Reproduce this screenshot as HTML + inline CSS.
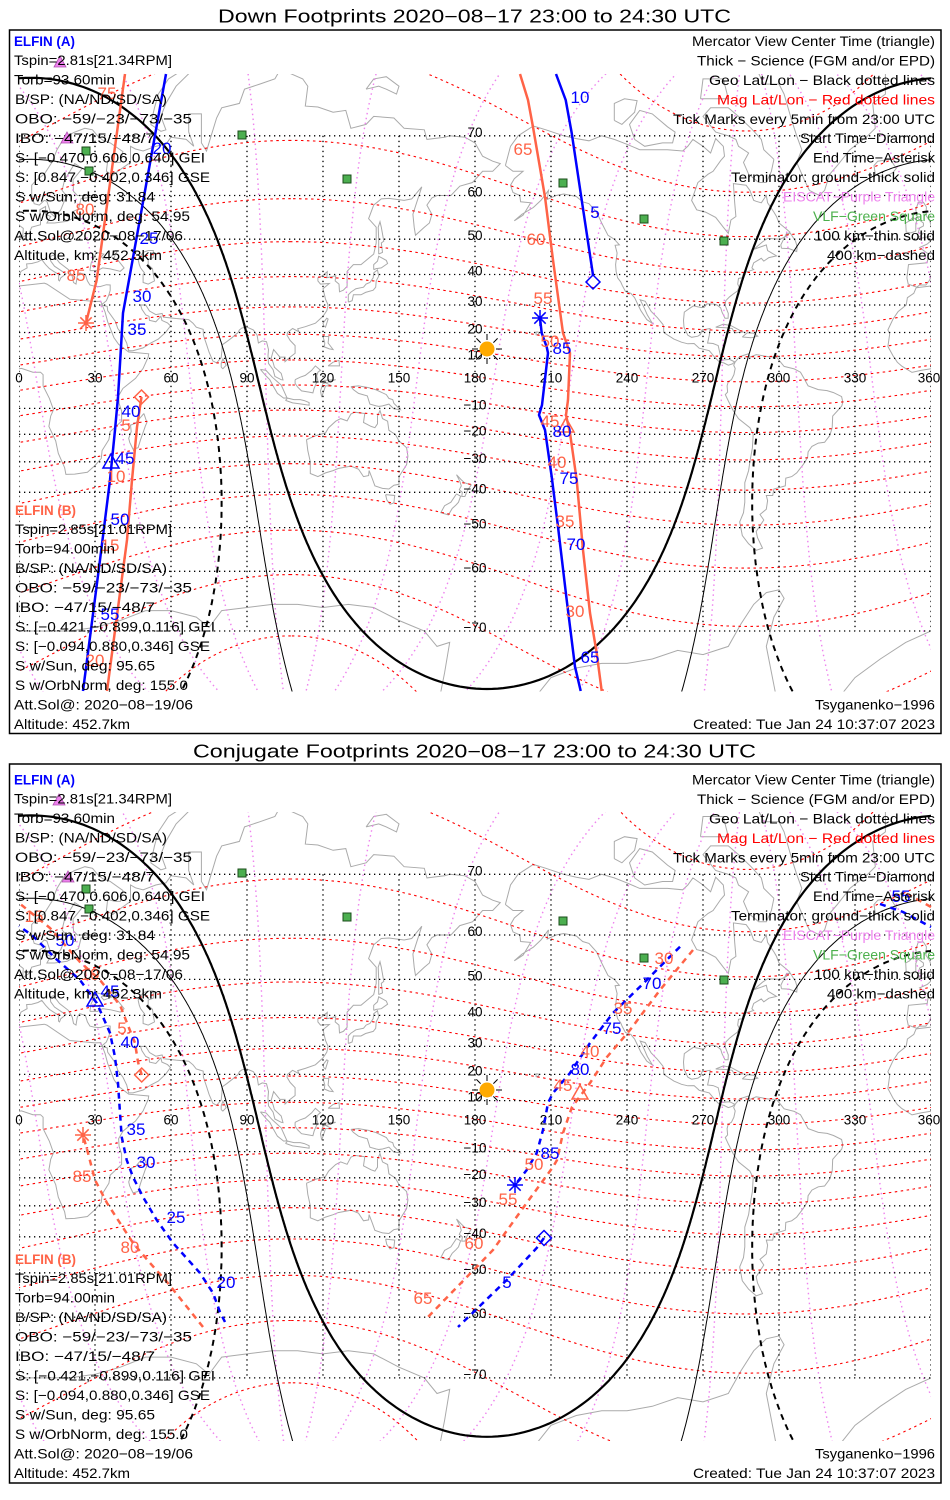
<!DOCTYPE html>
<html><head><meta charset="utf-8"><style>
html,body{margin:0;padding:0;background:#fff;width:950px;height:1500px;overflow:hidden;}
svg{display:block;font-family:"Liberation Sans",sans-serif;}
.t{font-size:14px;fill:#000;}
.g{font-size:13.5px;fill:#000;}
.lb{font-size:17px;}
.b{fill:#0000ff;}
.r{fill:#ff6347;}
</style></head><body>
<svg id="s" xmlns="http://www.w3.org/2000/svg" width="950" height="1500" viewBox="0 0 950 1500">
<rect width="950" height="1500" fill="#fff"/>
<defs>
<clipPath id="c1"><rect x="19" y="74" width="912" height="617.5"/></clipPath>
<clipPath id="c2"><rect x="19" y="812" width="912" height="629"/></clipPath>
</defs>
<g id="m1" clip-path="url(#c1)"></g>
<g id="m2" clip-path="url(#c2)"></g>

<!-- grid labels panel 1 -->
<g class="g" text-anchor="middle">
<text x="19" y="382.7">0</text><text x="95" y="382.7">30</text><text x="171" y="382.7">60</text><text x="247" y="382.7">90</text><text x="323" y="382.7">120</text><text x="399" y="382.7">150</text><text x="475" y="382.7">180</text><text x="551" y="382.7">210</text><text x="627" y="382.7">240</text><text x="703" y="382.7">270</text><text x="779" y="382.7">300</text><text x="855" y="382.7">330</text><text x="929" y="382.7">360</text>
<text x="475" y="136.8">70</text><text x="475" y="196.5">60</text><text x="475" y="240.2">50</text><text x="475" y="275.5">40</text><text x="475" y="306">30</text><text x="475" y="333.5">20</text><text x="475" y="359.4">10</text>
<text x="475" y="409.4">−10</text><text x="475" y="435.3">−20</text><text x="475" y="462.8">−30</text><text x="475" y="493.3">−40</text><text x="475" y="528.6">−50</text><text x="475" y="572.3">−60</text><text x="475" y="632">−70</text>
</g>
<!-- grid labels panel 2 -->
<g class="g" text-anchor="middle">
<text x="19" y="1124.7">0</text><text x="95" y="1124.7">30</text><text x="171" y="1124.7">60</text><text x="247" y="1124.7">90</text><text x="323" y="1124.7">120</text><text x="399" y="1124.7">150</text><text x="475" y="1124.7">180</text><text x="551" y="1124.7">210</text><text x="627" y="1124.7">240</text><text x="703" y="1124.7">270</text><text x="779" y="1124.7">300</text><text x="855" y="1124.7">330</text><text x="929" y="1124.7">360</text>
<text x="475" y="875.3">70</text><text x="475" y="936">60</text><text x="475" y="980.4">50</text><text x="475" y="1016.4">40</text><text x="475" y="1047.4">30</text><text x="475" y="1075.4">20</text><text x="475" y="1101.6">10</text>
<text x="475" y="1152.6">−10</text><text x="475" y="1178.8">−20</text><text x="475" y="1206.8">−30</text><text x="475" y="1237.8">−40</text><text x="475" y="1273.8">−50</text><text x="475" y="1318.2">−60</text><text x="475" y="1378.9">−70</text>
</g>

<!-- sun -->
<g stroke="#000" stroke-width="1">
<path d="M496,349h6M472,349h6M487,340v-6M487,358v6M493.4,342.6l4.2,-4.2M480.6,355.4l-4.2,4.2M480.6,342.6l-4.2,-4.2M493.4,355.4l4.2,4.2"/>
<path d="M496,1090h6M472,1090h6M487,1081v-6M487,1099v6M493.4,1083.6l4.2,-4.2M480.6,1096.4l-4.2,4.2M480.6,1083.6l-4.2,-4.2M493.4,1096.4l4.2,4.2"/>
</g>
<circle cx="487" cy="349" r="7.5" fill="#ffaa00"/>
<circle cx="487" cy="1090" r="7.5" fill="#ffaa00"/>

<!-- green squares -->
<g fill="#4caf50" stroke="#1b4d1b" stroke-width="1">
<rect x="238" y="131" width="8" height="8"/><rect x="82" y="147" width="8" height="8"/><rect x="85" y="167" width="8" height="8"/><rect x="343" y="175" width="8" height="8"/><rect x="559" y="179" width="8" height="8"/><rect x="640" y="215" width="8" height="8"/><rect x="720" y="237" width="8" height="8"/>
<rect x="238" y="869" width="8" height="8"/><rect x="82" y="885" width="8" height="8"/><rect x="85" y="905" width="8" height="8"/><rect x="343" y="913" width="8" height="8"/><rect x="559" y="917" width="8" height="8"/><rect x="640" y="954" width="8" height="8"/><rect x="720" y="976" width="8" height="8"/>
</g>
<!-- EISCAT triangles -->
<g fill="#ee82ee" stroke="#b050b0" stroke-width="0.8">
<polygon points="54,67 66,67 60,56"/><polygon points="61,143 73,143 67,132"/>
<polygon points="53,805 65,805 59,794"/><polygon points="62,882 74,882 68,871"/>
</g>

<!-- tracks panel 1 (science, solid) -->
<g fill="none" stroke-width="2.5" stroke-linejoin="round">
<g stroke="#0000ff">
<polyline points="593,276 592.7,273 581.7,200 571.7,133 565.7,100 556,74"/>
<polyline points="166,74 129,280 123,313 121,347 118,397 115,430 110,480 100,560 83,691"/>
<polyline points="580.7,691 575,666.7 566.7,600 558,526.7 551.7,476.7 545,430 539,415 542,405 548,353 546.7,347 541.7,333 540,318"/>
</g>
<g stroke="#ff6347">
<polyline points="125,74 96.7,280 86,323"/>
<polyline points="141.5,397 137,427 132,480 127,540 107,691"/>
<polyline points="601.7,691 596.7,653 590,613 583,550 576.7,480 570,433 566,415 568,400 570,353 563,333 553,260 545,197 533,127 528,100 520,74"/>
</g>
</g>
<!-- tracks panel 2 (dashed) -->
<g fill="none" stroke-width="2.5" stroke-dasharray="6 5">
<g stroke="#0000ff">
<polyline points="544,1238 536.7,1248 506.7,1280 458,1327"/>
<polyline points="225,1322 220,1312 213,1293 200,1273 173,1243 156.7,1220 143,1197 133,1177 126.7,1160 121.7,1137 120,1113 118,1083 115,1057 110,1033 103,1017 96.7,1003 80,980 55,958 33,936 19,926"/>
<polyline points="880,904 903,912 931,927"/>
<polyline points="680,946.7 640,986.7 613,1013 590,1043 570,1073 553,1093 548,1103 543,1130 536.7,1153 526.7,1170 515,1185"/>
</g>
<g stroke="#ff6347">
<polyline points="693,950 660,990 630,1030 607,1057 590,1083 572,1107 563,1133 557,1160 553,1167 523,1208 493,1250 427,1318"/>
<polyline points="141.7,1075 138,1062 135,1043 127,1023 120,1005 100,980 80,962 50,928 19,903"/>
<polyline points="931,907 913,897 905,893"/>
<polyline points="203,1327 187,1307 167,1282 150,1263 133,1243 120,1223 107,1203 95,1180 88,1153 83,1135"/>
</g>
</g>

<!-- markers -->
<g fill="none" stroke-width="1.5">
<g stroke="#0000ff">
<polygon points="593,275 600,282 593,289 586,282"/>
<path d="M532,318h16M540,310v16M534.3,312.3l11.4,11.4M534.3,323.7l11.4,-11.4"/>
<polygon points="103,468 119,468 111,454"/>
<polygon points="544,1230.5 551.5,1238 544,1245.5 536.5,1238"/>
<path d="M507,1185h16M515,1177v16M509.3,1179.3l11.4,11.4M509.3,1190.7l11.4,-11.4"/>
<polygon points="87,1006 103,1006 95,992"/>
</g>
<g stroke="#ff6347">
<polygon points="141.5,390 148.5,397 141.5,404 134.5,397"/>
<path d="M78,323h16M86,315v16M80.3,317.3l11.4,11.4M80.3,328.7l11.4,-11.4"/>
<polygon points="558,432 574,432 566,418"/>
<polygon points="141.7,1068 148.7,1075 141.7,1082 134.7,1075"/>
<path d="M75,1135h16M83,1127v16M77.3,1129.3l11.4,11.4M77.3,1140.7l11.4,-11.4"/>
<polygon points="572,1099 588,1099 580,1085"/>
</g>
</g>

<!-- track labels -->
<g class="lb b" text-anchor="middle">
<text x="580" y="103">10</text><text x="595" y="218">5</text><text x="162" y="154">20</text><text x="149" y="244">25</text><text x="142" y="302">30</text><text x="137" y="335">35</text><text x="131" y="417">40</text><text x="125" y="464">45</text><text x="120" y="525">50</text><text x="110" y="620">55</text><text x="590" y="663">65</text><text x="576" y="550">70</text><text x="569" y="484">75</text><text x="562" y="437">80</text><text x="562" y="354">85</text>
<text x="507" y="1288">5</text><text x="226" y="1288">20</text><text x="176" y="1223">25</text><text x="146" y="1168">30</text><text x="136" y="1135">35</text><text x="130" y="1048">40</text><text x="110" y="997">45</text><text x="65" y="946">50</text><text x="901" y="902">55</text><text x="652" y="989">70</text><text x="612" y="1034">75</text><text x="580" y="1075">80</text><text x="550" y="1159">85</text>
</g>
<g class="lb r" text-anchor="middle">
<text x="107" y="99">75</text><text x="85" y="215">80</text><text x="76" y="281">85</text><text x="126" y="431">5</text><text x="116" y="482">10</text><text x="110" y="551">15</text><text x="95" y="666">20</text><text x="575" y="617">30</text><text x="565" y="527">35</text><text x="557" y="468">40</text><text x="550" y="427">45</text><text x="550" y="347">50</text><text x="543" y="304">55</text><text x="536" y="245">60</text><text x="523" y="155">65</text>
<text x="122" y="1034">5</text><text x="90" y="980">10</text><text x="34" y="922">15</text><text x="664" y="964">30</text><text x="623" y="1014">35</text><text x="590" y="1057">40</text><text x="563" y="1091">45</text><text x="534" y="1170">50</text><text x="508" y="1205">55</text><text x="474" y="1249">60</text><text x="423" y="1304">65</text><text x="130" y="1253">80</text><text x="82" y="1182">85</text>
</g>

<!-- titles -->
<text x="218" y="22.5" font-size="18" textLength="513" lengthAdjust="spacingAndGlyphs">Down Footprints 2020−08−17 23:00 to 24:30 UTC</text>
<text x="193" y="757.5" font-size="18" textLength="563" lengthAdjust="spacingAndGlyphs">Conjugate Footprints 2020−08−17 23:00 to 24:30 UTC</text>

<!-- panel 1 A block -->
<g class="t">
<text x="14" y="46" textLength="61" lengthAdjust="spacingAndGlyphs" font-weight="bold" fill="#0000ff">ELFIN (A)</text>
<text x="14" y="65" textLength="158" lengthAdjust="spacingAndGlyphs">Tspin=2.81s[21.34RPM]</text>
<text x="14" y="84.5" textLength="101" lengthAdjust="spacingAndGlyphs">Torb=93.60min</text>
<text x="15" y="104" textLength="152" lengthAdjust="spacingAndGlyphs">B/SP: (NA/ND/SD/SA)</text>
<text x="15" y="123.5" textLength="177" lengthAdjust="spacingAndGlyphs">OBO: −59/−23/−73/−35</text>
<text x="15" y="143" textLength="140" lengthAdjust="spacingAndGlyphs">IBO: −47/15/−48/7</text>
<text x="15" y="162.5" textLength="190" lengthAdjust="spacingAndGlyphs">S: [−0.470,0.606,0.640] GEI</text>
<text x="15" y="182" textLength="195" lengthAdjust="spacingAndGlyphs">S: [0.847,−0.402,0.346] GSE</text>
<text x="15" y="201.5" textLength="140" lengthAdjust="spacingAndGlyphs">S w/Sun, deg: 31.84</text>
<text x="15" y="221" textLength="175" lengthAdjust="spacingAndGlyphs">S w/OrbNorm, deg: 54.95</text>
<text x="14" y="240.5" textLength="169" lengthAdjust="spacingAndGlyphs">Att.Sol@2020−08−17/06</text>
<text x="14" y="260" textLength="148" lengthAdjust="spacingAndGlyphs">Altitude, km: 452.3km</text>
</g>
<!-- panel 1 B block -->
<g class="t">
<text x="15" y="515" textLength="61" lengthAdjust="spacingAndGlyphs" font-weight="bold" fill="#ff6347">ELFIN (B)</text>
<text x="15" y="534" textLength="157" lengthAdjust="spacingAndGlyphs">Tspin=2.85s[21.01RPM]</text>
<text x="15" y="553.5" textLength="100" lengthAdjust="spacingAndGlyphs">Torb=94.00min</text>
<text x="15" y="573" textLength="152" lengthAdjust="spacingAndGlyphs">B/SP: (NA/ND/SD/SA)</text>
<text x="15" y="592.5" textLength="177" lengthAdjust="spacingAndGlyphs">OBO: −59/−23/−73/−35</text>
<text x="15" y="612" textLength="140" lengthAdjust="spacingAndGlyphs">IBO: −47/15/−48/7</text>
<text x="15" y="631.5" textLength="200" lengthAdjust="spacingAndGlyphs">S: [−0.421,−0.899,0.116] GEI</text>
<text x="15" y="651" textLength="195" lengthAdjust="spacingAndGlyphs">S: [−0.094,0.880,0.346] GSE</text>
<text x="15" y="670.5" textLength="140" lengthAdjust="spacingAndGlyphs">S w/Sun, deg: 95.65</text>
<text x="15" y="690" textLength="173" lengthAdjust="spacingAndGlyphs">S w/OrbNorm, deg: 155.0</text>
<text x="14" y="709.5" textLength="179" lengthAdjust="spacingAndGlyphs">Att.Sol@: 2020−08−19/06</text>
<text x="14" y="729" textLength="116" lengthAdjust="spacingAndGlyphs">Altitude: 452.7km</text>
</g>
<!-- panel 1 legend -->
<g class="t">
<text x="692" y="46" textLength="243" lengthAdjust="spacingAndGlyphs">Mercator View Center Time (triangle)</text>
<text x="697" y="65.5" textLength="238" lengthAdjust="spacingAndGlyphs">Thick − Science (FGM and/or EPD)</text>
<text x="709" y="85" textLength="226" lengthAdjust="spacingAndGlyphs">Geo Lat/Lon − Black dotted lines</text>
<text x="717" y="104.5" textLength="218" lengthAdjust="spacingAndGlyphs" fill="#ff0000">Mag Lat/Lon − Red dotted lines</text>
<text x="673" y="124" textLength="262" lengthAdjust="spacingAndGlyphs">Tick Marks every 5min from 23:00 UTC</text>
<text x="800" y="143" textLength="135" lengthAdjust="spacingAndGlyphs">Start Time−Diamond</text>
<text x="813" y="162.5" textLength="122" lengthAdjust="spacingAndGlyphs">End Time−Asterisk</text>
<text x="731" y="182" textLength="204" lengthAdjust="spacingAndGlyphs">Terminator: ground−thick solid</text>
<text x="783" y="201.5" textLength="152" lengthAdjust="spacingAndGlyphs" fill="#ee82ee">EISCAT−Purple Triangle</text>
<text x="813" y="221" textLength="122" lengthAdjust="spacingAndGlyphs" fill="#4cb04c">VLF−Green Square</text>
<text x="814" y="240.5" textLength="121" lengthAdjust="spacingAndGlyphs">100 km−thin solid</text>
<text x="827" y="260" textLength="108" lengthAdjust="spacingAndGlyphs">400 km−dashed</text>
<text x="815" y="709.5" textLength="120" lengthAdjust="spacingAndGlyphs">Tsyganenko−1996</text>
<text x="693" y="729" textLength="242" lengthAdjust="spacingAndGlyphs">Created: Tue Jan 24 10:37:07 2023</text>
</g>

<!-- panel 2 A block -->
<g class="t">
<text x="14" y="784.5" textLength="61" lengthAdjust="spacingAndGlyphs" font-weight="bold" fill="#0000ff">ELFIN (A)</text>
<text x="14" y="803.5" textLength="158" lengthAdjust="spacingAndGlyphs">Tspin=2.81s[21.34RPM]</text>
<text x="14" y="823" textLength="101" lengthAdjust="spacingAndGlyphs">Torb=93.60min</text>
<text x="15" y="842.5" textLength="152" lengthAdjust="spacingAndGlyphs">B/SP: (NA/ND/SD/SA)</text>
<text x="15" y="862" textLength="177" lengthAdjust="spacingAndGlyphs">OBO: −59/−23/−73/−35</text>
<text x="15" y="881.5" textLength="140" lengthAdjust="spacingAndGlyphs">IBO: −47/15/−48/7</text>
<text x="15" y="901" textLength="190" lengthAdjust="spacingAndGlyphs">S: [−0.470,0.606,0.640] GEI</text>
<text x="15" y="920.5" textLength="195" lengthAdjust="spacingAndGlyphs">S: [0.847,−0.402,0.346] GSE</text>
<text x="15" y="940" textLength="140" lengthAdjust="spacingAndGlyphs">S w/Sun, deg: 31.84</text>
<text x="15" y="959.5" textLength="175" lengthAdjust="spacingAndGlyphs">S w/OrbNorm, deg: 54.95</text>
<text x="14" y="979" textLength="169" lengthAdjust="spacingAndGlyphs">Att.Sol@2020−08−17/06</text>
<text x="14" y="998.5" textLength="148" lengthAdjust="spacingAndGlyphs">Altitude, km: 452.3km</text>
</g>
<!-- panel 2 B block -->
<g class="t">
<text x="15" y="1264" textLength="61" lengthAdjust="spacingAndGlyphs" font-weight="bold" fill="#ff6347">ELFIN (B)</text>
<text x="15" y="1283" textLength="157" lengthAdjust="spacingAndGlyphs">Tspin=2.85s[21.01RPM]</text>
<text x="15" y="1302.5" textLength="100" lengthAdjust="spacingAndGlyphs">Torb=94.00min</text>
<text x="15" y="1322" textLength="152" lengthAdjust="spacingAndGlyphs">B/SP: (NA/ND/SD/SA)</text>
<text x="15" y="1341.5" textLength="177" lengthAdjust="spacingAndGlyphs">OBO: −59/−23/−73/−35</text>
<text x="15" y="1361" textLength="140" lengthAdjust="spacingAndGlyphs">IBO: −47/15/−48/7</text>
<text x="15" y="1380.5" textLength="200" lengthAdjust="spacingAndGlyphs">S: [−0.421,−0.899,0.116] GEI</text>
<text x="15" y="1400" textLength="195" lengthAdjust="spacingAndGlyphs">S: [−0.094,0.880,0.346] GSE</text>
<text x="15" y="1419.5" textLength="140" lengthAdjust="spacingAndGlyphs">S w/Sun, deg: 95.65</text>
<text x="15" y="1439" textLength="173" lengthAdjust="spacingAndGlyphs">S w/OrbNorm, deg: 155.0</text>
<text x="14" y="1458.5" textLength="179" lengthAdjust="spacingAndGlyphs">Att.Sol@: 2020−08−19/06</text>
<text x="14" y="1478" textLength="116" lengthAdjust="spacingAndGlyphs">Altitude: 452.7km</text>
</g>
<!-- panel 2 legend -->
<g class="t">
<text x="692" y="784.5" textLength="243" lengthAdjust="spacingAndGlyphs">Mercator View Center Time (triangle)</text>
<text x="697" y="804" textLength="238" lengthAdjust="spacingAndGlyphs">Thick − Science (FGM and/or EPD)</text>
<text x="709" y="823.5" textLength="226" lengthAdjust="spacingAndGlyphs">Geo Lat/Lon − Black dotted lines</text>
<text x="717" y="843" textLength="218" lengthAdjust="spacingAndGlyphs" fill="#ff0000">Mag Lat/Lon − Red dotted lines</text>
<text x="673" y="862.5" textLength="262" lengthAdjust="spacingAndGlyphs">Tick Marks every 5min from 23:00 UTC</text>
<text x="800" y="881.5" textLength="135" lengthAdjust="spacingAndGlyphs">Start Time−Diamond</text>
<text x="813" y="901" textLength="122" lengthAdjust="spacingAndGlyphs">End Time−Asterisk</text>
<text x="731" y="920.5" textLength="204" lengthAdjust="spacingAndGlyphs">Terminator: ground−thick solid</text>
<text x="783" y="940" textLength="152" lengthAdjust="spacingAndGlyphs" fill="#ee82ee">EISCAT−Purple Triangle</text>
<text x="813" y="959.5" textLength="122" lengthAdjust="spacingAndGlyphs" fill="#4cb04c">VLF−Green Square</text>
<text x="814" y="979" textLength="121" lengthAdjust="spacingAndGlyphs">100 km−thin solid</text>
<text x="827" y="998.5" textLength="108" lengthAdjust="spacingAndGlyphs">400 km−dashed</text>
<text x="815" y="1458.5" textLength="120" lengthAdjust="spacingAndGlyphs">Tsyganenko−1996</text>
<text x="693" y="1478" textLength="242" lengthAdjust="spacingAndGlyphs">Created: Tue Jan 24 10:37:07 2023</text>
</g>

<!-- frames -->
<rect x="9.5" y="30" width="931.5" height="703.5" fill="none" stroke="#000" stroke-width="1.5"/>
<rect x="9.5" y="764" width="931.5" height="719" fill="none" stroke="#000" stroke-width="1.5"/>
</svg>
<script>
(function(){
var NS='http://www.w3.org/2000/svg',D=Math.PI/180;
function mY(a){a=Math.max(-80,Math.min(80,a));return Math.log(Math.tan(Math.PI/4+a*D/2));}
var PAN=[{y0:383.4,s:142.7,g:document.getElementById('m1')},{y0:1126.1,s:145.1,g:document.getElementById('m2')}];
function X(l){return 19+l*76/30;}
function unwrap(p){var o=[],pv=null;for(var i=0;i<p.length;i++){var l=p[i][0];if(pv!==null){while(l-pv>180)l-=360;while(l-pv<-180)l+=360;}o.push([l,p[i][1]]);pv=l;}return o;}
function dstr(p,P,offs){
  var u=unwrap(p),d='';
  offs.forEach(function(off){
    var pen=false,px=null,py=null,pin=false;
    for(var i=0;i<u.length;i++){
      var x=X(u[i][0]+off),y=P.y0-P.s*mY(u[i][1]);
      var inside=(x>=-30&&x<=980);
      if(inside){
        if(!pen){
          if(px!==null&&Math.abs(px-x)<60){d+='M'+Math.max(-30,Math.min(980,px)).toFixed(1)+' '+py.toFixed(1)+'L';}
          else d+='M';
          pen=true;
        } else d+='L';
        d+=x.toFixed(1)+' '+y.toFixed(1);
      } else {
        if(pen&&Math.abs(px-x)<60){d+='L'+Math.max(-30,Math.min(980,x)).toFixed(1)+' '+y.toFixed(1);}
        pen=false;
      }
      px=x;py=y;
    }
  });
  return d;
}
function add(g,d,a){if(!d)return;var e=document.createElementNS(NS,'path');e.setAttribute('d',d);e.setAttribute('fill','none');for(var k in a)e.setAttribute(k,a[k]);g.appendChild(e);}
function circ(fc,lc,r,step){var p=[],f1=fc*D,rr=r*D;for(var b=0;b<=360.0001;b+=step){var bb=b*D;var s=Math.sin(f1)*Math.cos(rr)+Math.cos(f1)*Math.sin(rr)*Math.cos(bb);s=Math.max(-1,Math.min(1,s));var f=Math.asin(s);var dl=Math.atan2(Math.sin(bb)*Math.sin(rr)*Math.cos(f1),Math.cos(rr)-Math.sin(f1)*s);p.push([lc+dl/D,f/D]);}return p;}
function gcm(fc,lc,b,step){var p=[],f1=fc*D,bb=b*D;for(var dd=0.5;dd<=179.5;dd+=step){var rr=dd*D;var s=Math.sin(f1)*Math.cos(rr)+Math.cos(f1)*Math.sin(rr)*Math.cos(bb);s=Math.max(-1,Math.min(1,s));var f=Math.asin(s);var dl=Math.atan2(Math.sin(bb)*Math.sin(rr)*Math.cos(f1),Math.cos(rr)-Math.sin(f1)*s);p.push([lc+dl/D,f/D]);}return p;}
function pairs(a){var o=[];for(var i=0;i<a.length;i+=2)o.push([a[i],a[i+1]]);return o;}
var C=[
[-5.9,35.8,10,37.3,11,37,20,32,30,31.2,32.3,31.3,34,27.5,35,24,37.5,18,39.3,15.5,43.3,12.5,51.2,11.8,51,10.5,49,6,46,2,41,-2,39.3,-5,39.5,-8,40.5,-11,40.5,-15,36,-19,35.5,-22,32.8,-26,32.5,-28.8,30,-31.3,27,-33.6,22,-34.2,18.5,-34.3,18,-32,15.5,-27,14.5,-22.5,11.8,-17,12.5,-13,13.6,-10.5,12,-6,9.5,-1,9.5,3.5,8.5,4.5,5.5,4.5,1,6,-4,5.2,-7.5,4.4,-11.5,6.9,-13.3,8.5,-15,11,-17,14.7,-16.3,19.5,-17,21,-15,25,-13,27.7,-9.8,30,-9.3,32.5,-6.8,34,-5.9,35.8],
[49.3,-12,50.5,-15.5,49.8,-17,48,-22,47,-25,45,-25.5,43.7,-23,43.3,-21.5,44.3,-19,44,-16.5,46,-15.8,48,-13.5,49.3,-12],
[-5.6,36,-9,37,-9.5,39,-8.9,43,-1.5,43.5,-1,46,-4.5,47.8,-1.5,48.7,1.5,50.5,4,51.5,5,53,8.5,53.6,8.5,55.5,8.2,57,10.5,57.7,10.5,56,12.5,55.5,11,54,14,54,19,54.4,21,55,21,56.5,23.5,57.2,24.5,59.4,28,59.6,30,60,23,60,21.5,60.8,21.3,63,25,65,22,65.8,18,63,17,61,19,59.8,18,59,16.5,57,14,55.5,12.6,56.2,11,58.8,10,59,8,58,6,58.3,5,60,5,62,7,63,10,64,13,66,15,68,18,69.8,22,70.5,26,71,29,70.8,31,70,33,69.4,36,69,41,67.7,40,66,38,66,35,66.3,34.5,64.5,37,63.8,39,64.5,44,66,44,68.5,46,68.1,49,67.8,54,68.5,58,68.8,60,69.8,66,69.5,69,68.5,67,70.5,67,72.8,72,72.8,72,69,74,67.8,78,72.3,80,73.5,87,74,89,75.5,95,76,101,76.5,104,77.7,107,77,112,76.5,114,75.8,113,73.7,118,73.6,124,73,129,73.2,131,71,137,71.5,140,72.5,148,72.3,152,71,160,70.8,161,69.5,168,69.8,170,70,176,69.8,180,69,183,67,187,66.2,190,65.8,187,64.5,183,64.5,179,62.5,174,61.8,170.5,60,165,60,163,59.5,161,58,163,56,162,54,160,53,156.5,51,156,53,155.5,56,156.5,57.8,159,61.7,155,59.3,152,59,146,59.4,143,59.3,140,58,138,55,141,53,141,49,140,46,135,43,132,43,129.5,41,129.5,39,129.5,36.3,128,35,126.5,34.5,126.3,37,124.8,38,125,39.6,121.5,39,121.7,40.9,119.5,39.5,118,39,118,38,119,37,122.5,37.2,120,35.5,121,32,122,30,121.5,28,120,26,117,23.5,113,22.2,110,21.4,110.5,20.3,108,21.5,106,20,105.8,19,107,17,109,15,109,12,107,10.5,105,8.7,105,10.5,103,10.5,100.5,13.5,99.5,10,100.3,8.4,100.8,6.5,103.5,4,104.2,1.4,103.5,1.5,101,2.8,100.3,5.5,98.5,8,98.3,11,98.5,13.5,97.7,16.5,96,16.8,94.5,16,94,19,92.5,21,90,22,88,21.7,87,21,86.5,20,84,18,82,16.5,80.2,15.3,80.1,13,79.8,10.3,78,8.2,76.5,9,75,12.5,74,15.5,72.8,19,72.7,21.2,70,22,68.7,23.5,67,24.8,62,25.2,57,25.7,56.5,27,54,26.6,51.5,27.9,50,30,48,30,48.5,28.5,50,26.5,51.3,26,51.5,24.5,54,24,56,26,56.4,24.5,58.6,23.6,59.8,22.5,57.8,20,55,17.5,52,16,49,14.1,45,13,43.3,13,42.5,16,41,19,39,21.5,38,24.2,35,28,34.8,29.5,32.5,30,34.5,31.5,35.5,33.5,36,35,36,36.7,34.5,36.8,32,36.2,30,36.3,28,36.7,27,38,26.2,40,24,40.5,23,39.5,22.5,37,21.5,37.5,21,39.5,19.5,41.5,16,43.5,13.6,45.7,12.3,45.3,12.5,44,14,42.5,16,41.5,18.5,40.2,16.5,39,16,38,15.6,38.3,15.7,40,14,40.8,12,41.8,10.5,43,9,44.4,7.5,43.8,5,43.3,3,43.2,3.2,42,0.8,41,0,39.5,-0.5,38.3,-2,36.7,-4.5,36.7,-5.6,36],
[28,41.2,28.5,43.5,29.6,45,30.5,46.5,33.5,46,32.5,45.3,33.5,44.5,35.5,45,36.5,45.3,38,47,39,47,38,46,37.5,44.7,39,44.3,41.5,42,40,41,36,41.7,33,42,31,41.2,28,41.2],
[47,44.5,49,46.5,51,47,53,47,53,45,51,44.5,51,43,52.7,41.8,53,40,53.5,38,51,37,49,37.5,49,40,49.5,40.5,48,42,47.5,43,47,44.5],
[-5.7,50,1.5,51,1.7,52.7,0,53.5,-0.5,54.5,-2,55.8,-1.8,57.6,-3,58.6,-5,58.6,-6,57,-5.5,55.5,-4.8,54.8,-3,54,-3,53.3,-4.5,52.8,-5,51.6,-3,51.5,-5.7,50],
[-6,52,-6,53.9,-5.5,54.6,-7.2,55.3,-8.5,54.5,-10,54,-9.8,51.8,-8,51.6,-6,52],
[-22,64,-22.5,65.5,-21,66.2,-16,66.5,-14.5,65.5,-13.7,65,-15,64.3,-18.7,63.4,-22,64],
[52,71.5,56,70.6,58,70.8,56,72.5,58,74,62,75.8,68,77.2,66,77.5,59,76.5,55,75,53.5,73.5,52,71.5],
[137,75.5,142,75.8,145,75.5,149,75,150,75.8,145,76.7,140,76.5,137,75.5],
[130,31,131.5,31.5,132,33.5,135,33.5,136.8,34.3,139.8,35,140.8,36,141,38,142,39.5,141.5,41.4,140,40.5,139.8,39,138.5,37.5,137,37,136,36,133,35.5,131,34.4,130,33.5,130,31],
[140,41.5,141,41.8,143,42,145.5,43.3,145,44.2,142,45.4,141.5,44,140,43,140,41.5],
[142,46,143.5,46.5,143,49,144,49.5,143,53,142.5,54.3,141.8,53,142,50,142,46],
[120.3,22.5,121,22,122,25,121.5,25.3,120,23.5,120.3,22.5],
[120,18.5,122.3,18.5,122,16,124,13.5,122.5,13.7,120.5,14.5,120.7,16,120,18.5],
[122,7,126.5,7,126.3,9.2,124,8.5,122,7],
[109,1.5,111,2.5,113,3.2,115.5,5.2,117,7,119,5.3,118,4.5,117.5,3,118,1,117.3,0,116.5,-2,116,-3.8,114.5,-3.5,111.5,-3,110,-1.5,109,0,109,1.5],
[95.3,5.6,97.5,5.2,100,2.5,103.5,-0.7,105.8,-5.8,104.5,-5.9,102,-4,100.3,-1,99,1.5,97.5,3,95.3,5.6],
[105.2,-6.8,106,-5.9,108.5,-6.5,111,-6.5,112.6,-6.9,114.5,-7.7,114.5,-8.7,111,-8.2,108,-7.8,105.2,-6.8],
[119.5,-5.5,120.5,-2.5,121,-1,123.5,-1,120.5,0.5,120.5,1.2,125,1.5,122,0.5,120,0,119,-3,119.5,-5.5],
[131,-1.3,134,-1,138,-1.7,141,-2.6,145,-4.5,146,-6,147.5,-6.5,148,-8,150.5,-10.5,148,-10.2,146,-8.3,143.5,-9,142,-9.2,141,-9,138.5,-8.3,137.5,-5,134,-4,132,-2.5,131,-1.3],
[113.5,-22,114,-26,115,-30,115,-34,118,-35,121,-33.8,124,-33,126,-32.3,131,-31.5,134,-32.5,136,-35,138,-34.7,138.2,-33,139.5,-35.8,140.5,-38,143.5,-38.8,146,-39,148,-37.8,150,-37.5,150,-35,151.5,-33,153,-31,153.5,-28,153,-25,150,-22.5,148.5,-20,146,-18.5,145.5,-15,143.5,-14,142.5,-10.8,141.5,-13,141.5,-16,140.5,-17.5,139,-17,136,-15.5,136.5,-12,132.5,-11.5,131,-12.2,129.5,-14.9,127,-14,125,-15,122.2,-17.5,121,-19.5,117,-20.6,114,-21.8,113.5,-22],
[144.7,-40.7,148.3,-41,148,-43.2,146.5,-43.6,145.2,-42.3,144.7,-40.7],
[172.7,-34.4,174.5,-36,175.8,-37,178.5,-37.7,177,-39.5,176,-41.3,174.8,-41.3,175,-40,173.8,-39.2,174.6,-38,174,-36.5,172.7,-34.4],
[172.7,-40.5,174.3,-41.2,173.5,-43,172.5,-43.8,171,-44.8,169.5,-46.6,166.5,-46,168,-44,170.5,-43,172.7,-40.5],
[79.8,6.5,80.5,5.9,81.8,7.3,80.5,9.8,79.8,8,79.8,6.5],
[-168,65.5,-166,68.5,-163,70,-157,71.3,-152,70.8,-145,70,-140,69.6,-135,69.3,-130,70,-125,69.5,-120,68.8,-115,68,-108,68,-104,68,-98,67.8,-96,68.5,-94,69.5,-90,68.5,-87,67.5,-85,69.6,-82,68.5,-81.5,67,-83,66.3,-86,64.5,-88,64,-92,62.5,-94.5,59,-92.5,57,-89,56.5,-85,55.3,-82,53,-80,51.5,-79,54.7,-77,55.5,-77.5,58.5,-78,62.3,-73,62,-71.5,61,-70,59,-69,58.8,-67,58.5,-65,60,-64.5,58.5,-62,56.5,-61,55.5,-60,54,-57,52.5,-55.7,51.8,-57,50.8,-59.5,50,-64.5,50.2,-66.5,49.3,-70,47.3,-65,48.5,-64.5,47,-61,45.5,-64,45,-66,44,-67,44.8,-70,43.5,-70.7,42,-70,41.5,-72,41,-74,40.5,-74.5,39,-76,38.8,-76.3,37,-75.7,36,-76.5,34.7,-78,33.8,-79.5,32.8,-81,31.5,-81.3,30,-80,27,-80.1,25.3,-81.3,25.3,-82.5,27.5,-83,29,-84.5,30,-86,30.4,-88.5,30.4,-89.5,29.2,-90.5,29.1,-93.8,29.7,-95.5,28.7,-97.4,27.5,-97.7,24.5,-97.5,22,-96,19,-94.5,18.2,-92,18.6,-91,19.3,-90.4,21,-87.2,21.5,-87.5,19,-88.2,16,-86,15.8,-84,15,-83.2,11.5,-82.3,9.3,-79.5,9.6,-77.5,8.6,-78.4,7.8,-80,7.3,-81.8,8.2,-83.5,8.5,-85.7,10.8,-87.5,13,-91.5,14,-93.5,15.8,-96,15.7,-98.5,16.3,-101.5,17.5,-105.5,20,-105.5,21.8,-105.8,23,-108,25.5,-110.5,27.8,-112.8,31.3,-114.8,31.8,-113.2,29,-112,26.5,-110,23.5,-109.5,23.1,-112.2,24.8,-114.5,28,-115.5,29.8,-117,32.5,-118.5,34,-120.6,34.6,-121.9,36.6,-122.5,37.7,-123.7,39,-124.3,41,-124.5,43,-123.9,46.3,-124.7,48.4,-123,48.5,-125,50,-127.5,51,-130,54,-132,56.5,-135,58.3,-137.5,58.7,-140,59.8,-145,60.3,-148,60,-151.5,59.2,-151,61,-154,59,-157,57.5,-161.5,56,-164.5,54.5,-161,55.8,-158,58.5,-162,58.7,-162.3,60,-165,60.6,-166,62,-164.5,63.2,-161,64.5,-165,64.5,-168,65.5],
[-73,78,-68,77,-66,76,-60,76,-58,75,-55,72,-53,70,-51,68,-53,66,-50,63,-48,61,-44,60,-42,61,-40,64,-37,65.5,-32,68,-25,70,-22,71,-23,74,-18,75,-18,78,-20,80,-30,83,-60,82,-73,78],
[-62,66.5,-63,64.5,-65,62.5,-68,62.5,-72,64,-74,66,-72,67.5,-76,68.5,-77,69.5,-80,70,-85,70.5,-90,72.5,-87,73.5,-80,73.5,-76,72.5,-71,71,-67,69.5,-66,68,-62,66.5],
[-117,69.5,-113,68.5,-106,69,-102,69,-101,70.5,-104,71.2,-110,72.8,-115,73.2,-119,71.5,-117,69.5],
[-125,72,-122,71.5,-117,73,-116,74.3,-121,74.5,-125,74,-125,72],
[-91,74.5,-80,74.5,-82,76.5,-90,76.5,-91,74.5],
[-59,47.6,-56,47.5,-53,46.7,-52.8,48,-53.5,49.5,-55.5,51.5,-57,51.5,-59.3,48.5,-59,47.6],
[-85,22,-82,23.1,-79,22.6,-74.2,20.2,-77.5,19.9,-78.5,21.5,-81,21.8,-85,22],
[-74.5,18.3,-72.5,19.9,-70,19.7,-68.4,18.6,-71,18,-74.5,18.3],
[-155.9,19,-154.8,19.5,-155.1,20.2,-155.9,20.2,-155.9,19],
[-77.3,8.6,-75.5,10.7,-72,11.8,-71.5,10.5,-69,11.5,-64,10.6,-61,10.5,-58,6.8,-54,5.8,-51.5,4.5,-50,1.8,-48.5,-1,-44.5,-2.5,-41,-2.9,-38.5,-3.7,-35.3,-5.3,-34.8,-7.5,-35.2,-9,-37,-11,-38.8,-13,-39,-17.5,-40,-20.5,-42,-23,-44.5,-23.3,-47,-24.5,-48.5,-26.5,-48.7,-28.5,-50.5,-31,-53,-33.8,-55,-35,-57.3,-35.5,-57.5,-38,-62,-39,-62.5,-41,-65,-41,-64.5,-42.5,-65,-45,-67.5,-46.5,-66,-48,-69,-51,-68.5,-52.5,-66.5,-55,-69,-55.5,-72,-54,-74.5,-52,-75.5,-48.5,-74,-46,-73.5,-43,-73.5,-40,-73.5,-37,-72,-33,-71.5,-30,-70.5,-25,-70.2,-20,-71.5,-17.5,-76,-14,-78,-11,-80,-7,-81.2,-4.5,-80.3,-3.5,-80.5,-1,-80,0.8,-78.8,1.5,-77.8,3.5,-77.3,6,-77.9,7.3,-77.3,8.6],
[0,-70,20,-70,30,-69.5,40,-68.5,50,-67,60,-67,70,-68,75,-69.5,80,-67,90,-66.5,100,-66,110,-66,120,-66.5,130,-66,140,-66.5,150,-68.5,160,-70,165,-72,170,-71.5,168,-75,165,-78.5,180,-78.5,200,-78.5,205,-77,210,-75.5,220,-74.5,230,-74,240,-74,250,-73.5,260,-72.5,270,-73,280,-72,285,-69,290,-66,295,-64,300,-63.5,302,-65,298,-68,295,-72,300,-78.5,320,-78.5,325,-77,330,-75.5,340,-73.5,350,-71.5,360,-70]
];
PAN.forEach(function(P){
  var g=P.g,o3=[-360,0,360];
  C.forEach(function(a){add(g,dstr(pairs(a),P,o3),{stroke:'#aaaaaa','stroke-width':'1'});});
  for(var k=0;k<12;k++){add(g,dstr(gcm(80.65,287.3,10+30*k,1),P,o3),{stroke:'#ee82ee','stroke-width':'1.4','stroke-dasharray':'1.5 3.5'});}
  for(var lm=-80;lm<=80;lm+=10){add(g,dstr(circ(80.65,287.3,90-lm,0.5),P,o3),{stroke:'#ff0000','stroke-width':'1.1','stroke-dasharray':'2.5 3.5'});}
  var d='';
  for(var la=-70;la<=70;la+=10){if(la===0)continue;var y=(P.y0-P.s*mY(la)).toFixed(1);d+='M19 '+y+'L931 '+y;}
  var yt=(P.y0-P.s*mY(70)).toFixed(1),yb=(P.y0-P.s*mY(-70)).toFixed(1);
  for(var lo=0;lo<=360;lo+=30){var x=X(lo).toFixed(1);d+='M'+x+' '+yt+'L'+x+' '+yb;}
  add(g,d,{stroke:'#000','stroke-width':'1.3','stroke-dasharray':'1.3 3.7'});
  add(g,dstr(circ(-13.4,4.7,90,0.5),P,o3),{stroke:'#000','stroke-width':'2.2'});
  add(g,dstr(circ(-13.4,4.7,79.9,0.5),P,o3),{stroke:'#000','stroke-width':'1'});
  add(g,dstr(circ(-13.4,4.7,70.2,0.5),P,o3),{stroke:'#000','stroke-width':'2','stroke-dasharray':'6 5'});
});
})();
</script>
</body></html>
